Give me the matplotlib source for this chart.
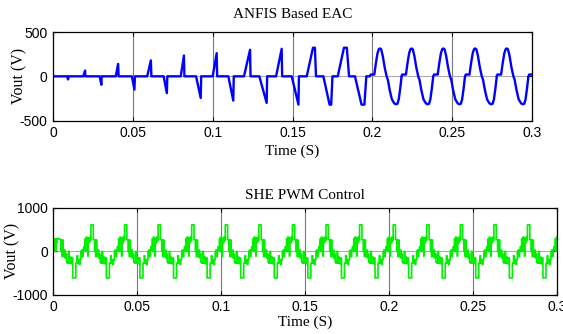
import numpy as np
import matplotlib
matplotlib.use("Agg")
import matplotlib.pyplot as plt

# ---- top trace: ANFIS based EAC (pulses) ----
# early half-cycle pulses: ramp from t_on to peak, hold, then drop back at t_off
pulse_on   = [0.0088, 0.0190, 0.0292, 0.0393, 0.0494, 0.0590, 0.0693, 0.0800, 0.0896, 0.1000,
              0.1098, 0.1196, 0.1292, 0.1397, 0.1495, 0.1589, 0.1693, 0.1783, 0.1891]
pulse_top1 = [0.0095, 0.0201, 0.0303, 0.0408, 0.0510, 0.0613, 0.0713, 0.0820, 0.0925, 0.1025,
              0.1129, 0.1234, 0.1338, 0.1432, 0.1537, 0.1628, 0.1732, 0.1822, 0.1932]
pulse_top2 = [0.0095, 0.0201, 0.0303, 0.0408, 0.0510, 0.0613, 0.0713, 0.0820, 0.0925, 0.1025,
              0.1129, 0.1234, 0.1338, 0.1432, 0.1537, 0.1640, 0.1742, 0.1840, 0.1950]
pulse_off  = [0.0097, 0.0203, 0.0305, 0.0411, 0.0513, 0.0616, 0.0716, 0.0823, 0.0928, 0.1028,
              0.1132, 0.1237, 0.1341, 0.1435, 0.1540, 0.1647, 0.1750, 0.1854, 0.1962]
pulse_amp  = [-35, 65, -95, 140, -150, 180, -190, 235, -245, 262,
              -275, 300, -300, 311, -320, 323, -320, 323, -320]

# later, sine-like cycles: positive peak times and one cycle's shape around the peak
late_peak_t = [0.2047, 0.2245, 0.2444, 0.2643, 0.2841, 0.3040]
late_dt = [-0.0063, -0.0058, -0.0035, -0.0025, -0.0015, -0.0007, 0.0000, 0.0008, 0.0018, 0.0030,
           0.0042, 0.0050, 0.0062, 0.0075, 0.0090, 0.0100, 0.0110, 0.0118, 0.0127, 0.0136]
late_v  = [0, 20, 20, 150, 260, 305, 315, 305, 230, 100,
           0, -40, -160, -260, -305, -316, -310, -260, -140, 0]

# ---- bottom trace: SHE PWM, one 20 ms period of switching levels ----
cyc_t = [0.0000, 0.0006, 0.0008, 0.0012, 0.0016, 0.0020, 0.0024, 0.0038, 0.0046, 0.0049,
         0.0052, 0.0056, 0.0059, 0.0063, 0.0067, 0.0071, 0.0075, 0.0079, 0.0084, 0.0090,
         0.0094, 0.0098, 0.0104, 0.0110, 0.0116, 0.0134, 0.0141, 0.0145, 0.0150, 0.0155,
         0.0159, 0.0164, 0.0168, 0.0173, 0.0177, 0.0181, 0.0185, 0.0189, 0.0192, 0.0196]
cyc_v = [300, -110, 300, 200, 330, 250, 610, 270, 0, 270,
         -120, 260, 0, -120, 30, -150, -60, -250, -270, 0,
         -270, -130, -280, -150, -610, -270, -100, -270, -190, -300,
         -190, 0, 30, -120, 30, 110, 30, 290, 0, 330]
first_head_v = [0, 0, 290, 0, 290, 200, 290]   # first period has no +600 spike
period = 0.02
n_periods = 16

# ---- build traces ----
top_t, top_v = [0.0], [0.0]
for on, t1, t2, off, a in zip(pulse_on, pulse_top1, pulse_top2, pulse_off, pulse_amp):
    top_t += [on, t1, t2, off]
    top_v += [0, a, a, 0]
for tp in late_peak_t:
    top_t += [tp + d for d in late_dt]
    top_v += late_v

bot_t, bot_v = [], []
for k in range(n_periods):
    vals = list(cyc_v)
    if k == 0:
        vals[:len(first_head_v)] = first_head_v
    bot_t += [k * period + t for t in cyc_t]
    bot_v += vals

SERIF = "Liberation Serif"
SANS = "Liberation Sans"
xt = [0, 0.05, 0.1, 0.15, 0.2, 0.25, 0.3]
xtl = ["0", "0.05", "0.1", "0.15", "0.2", "0.25", "0.3"]


def style(ax, yt, ytl, title, title_pad, xlab_pad, ylab_x):
    ax.set_xlim(0, 0.3)
    ax.set_xticks(xt)
    ax.set_xticklabels(xtl, fontfamily=SANS, fontsize=10)
    ax.set_yticks(yt)
    ax.set_yticklabels(ytl, fontfamily=SANS, fontsize=10)
    ax.tick_params(direction="in", length=3, width=0.8, top=True, right=True, pad=4)
    for x in xt[1:-1]:
        ax.axvline(x, color="#777777", lw=0.8, zorder=0)
    ax.axhline(0, color="#aaaaaa", lw=0.8, zorder=0)
    for s in ax.spines.values():
        s.set_linewidth(0.9)
    ax.set_title(title, fontfamily=SERIF, fontsize=11, pad=title_pad)
    ax.set_xlabel("Time (S)", fontfamily=SERIF, fontsize=11, labelpad=xlab_pad)
    ax.set_ylabel("Vout (V)", fontfamily=SERIF, fontsize=11.5)
    ax.yaxis.set_label_coords(ylab_x, 0.5)


fig = plt.figure(figsize=(5.63, 3.34), dpi=100)
ax1 = fig.add_axes([0.0941, 0.639, 0.851, 0.265])
ax2 = fig.add_axes([0.0947, 0.117, 0.8947, 0.2605])

ax1.plot(top_t, top_v, color="#0000ff", lw=1.7)
ax1.set_ylim(-500, 500)
style(ax1, [-500, 0, 500], ["-500", "0", "500"], "ANFIS Based EAC", 10, 3, -0.054)

ax2.step(bot_t, bot_v, where="post", color="#00f000", lw=1.2)
ax2.set_ylim(-1000, 1000)
style(ax2, [-1000, 0, 1000], ["-1000", "0", "1000"], "SHE PWM Control", 6.5, 1, -0.066)

fig.savefig("out.png", dpi=100)
